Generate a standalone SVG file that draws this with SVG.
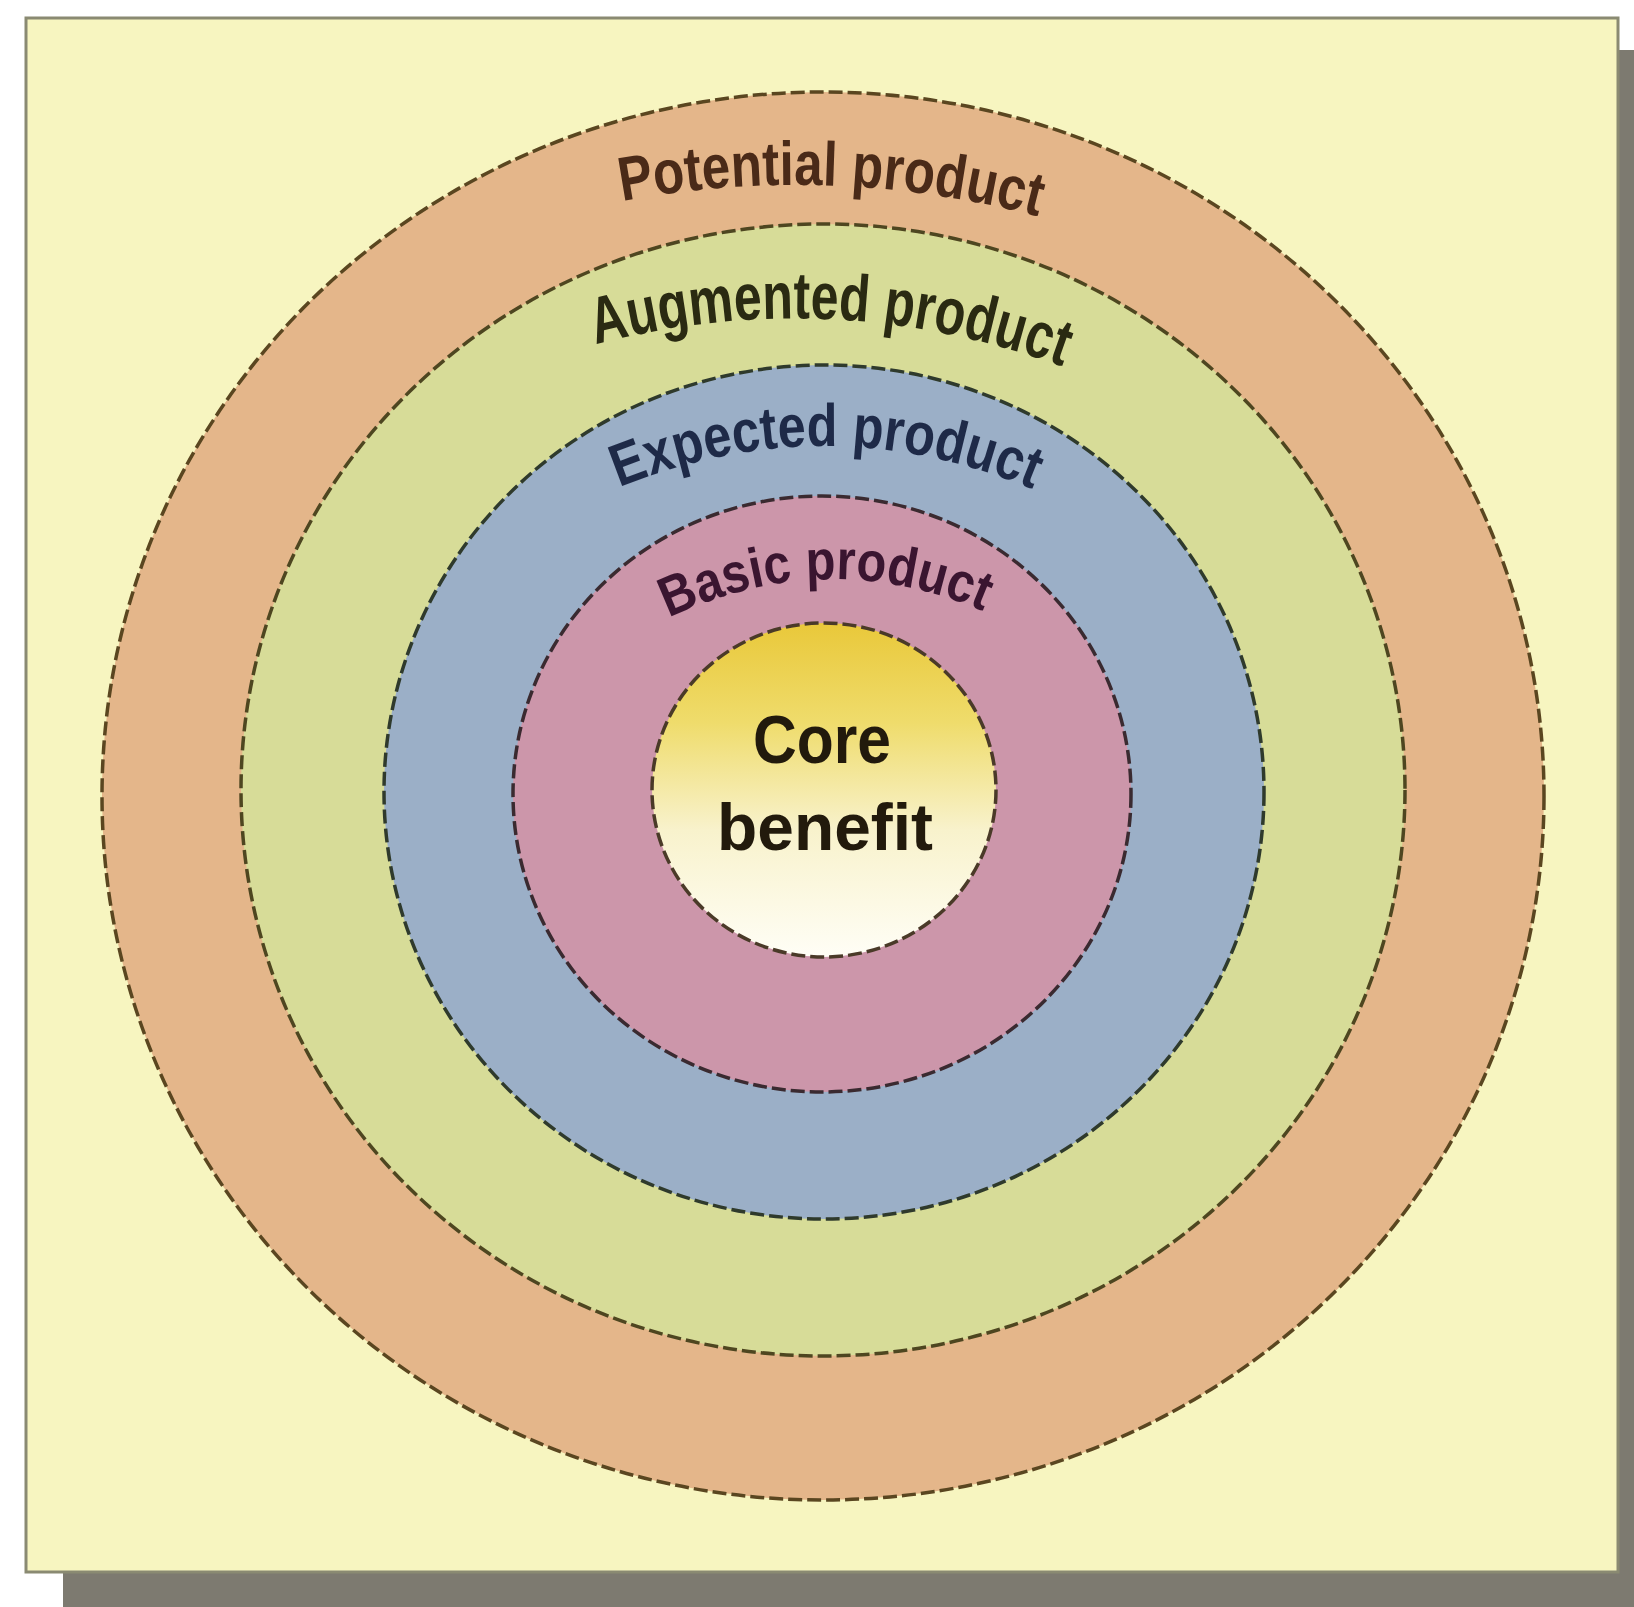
<svg xmlns="http://www.w3.org/2000/svg" width="1634" height="1607" viewBox="0 0 1634 1607">
  <style>
    .ring { stroke-width: 3.5; stroke-dasharray: 14 5; }
    .lbl { font-family: "Liberation Sans", "DejaVu Sans", sans-serif; font-weight: 700; }
    .core { font-family: "Liberation Sans", "DejaVu Sans", sans-serif; font-weight: 700; fill: #221a0c; text-anchor: middle; }
  </style>
  <defs>
    <linearGradient id="coreGrad" x1="0" y1="0" x2="0" y2="1">
      <stop offset="0" stop-color="#e9c83a"/>
      <stop offset="0.3" stop-color="#efdc6c"/>
      <stop offset="0.62" stop-color="#f8f2cc"/>
      <stop offset="1" stop-color="#fffef6"/>
    </linearGradient>
    <path id="pPotential" d="M 612 203 Q 830 160 1048 219"/>
    <path id="pAugmented" d="M 586 347 Q 831 280 1072 370"/>
    <path id="pExpected" d="M 608 492 Q 826 399 1044 494"/>
    <path id="pBasic" d="M 656 624 Q 826 538 996 617"/>
  </defs>

  <rect x="0" y="0" width="1634" height="1607" fill="#ffffff"/>
  <g id="frame">
    <rect x="1617" y="50" width="17" height="1557" fill="#7d7a70"/>
    <rect x="63" y="1572" width="1571" height="35" fill="#7d7a70"/>
    <rect x="26" y="18" width="1592" height="1554" fill="#f7f5c0" stroke="#8a8a72" stroke-width="3"/>
  </g>

  <g id="potential-product">
    <ellipse class="ring" cx="823" cy="796" rx="721" ry="704" fill="#e4b68a" stroke="#5a4620"/>
    <text class="lbl" font-size="62" fill="#4a2a18"><textPath href="#pPotential" startOffset="50%" text-anchor="middle" textLength="420" lengthAdjust="spacingAndGlyphs">Potential product</textPath></text>
  </g>

  <g id="augmented-product">
    <ellipse class="ring" cx="823" cy="790" rx="582" ry="566" fill="#d7dc98" stroke="#4e4620"/>
    <text class="lbl" font-size="66" fill="#2a2a12"><textPath href="#pAugmented" startOffset="50%" text-anchor="middle" textLength="475" lengthAdjust="spacingAndGlyphs">Augmented product</textPath></text>
  </g>

  <g id="expected-product">
    <ellipse class="ring" cx="824" cy="792" rx="440" ry="427" fill="#9bafc7" stroke="#2f3a2c"/>
    <text class="lbl" font-size="60" fill="#1e2a48"><textPath href="#pExpected" startOffset="50%" text-anchor="middle" textLength="425" lengthAdjust="spacingAndGlyphs">Expected product</textPath></text>
  </g>

  <g id="basic-product">
    <ellipse class="ring" cx="822" cy="794" rx="309" ry="298" fill="#cc96aa" stroke="#3a2a30"/>
    <text class="lbl" font-size="56" fill="#3a1530"><textPath href="#pBasic" startOffset="50%" text-anchor="middle" textLength="325" lengthAdjust="spacingAndGlyphs">Basic product</textPath></text>
  </g>

  <g id="core-benefit">
    <ellipse class="ring" cx="824" cy="790" rx="172" ry="167" fill="url(#coreGrad)" stroke="#4a3a28"/>
    <text class="core" x="822" y="763" font-size="68" textLength="138" lengthAdjust="spacingAndGlyphs">Core</text>
    <text class="core" x="825" y="850" font-size="66" textLength="216" lengthAdjust="spacingAndGlyphs">benefit</text>
  </g>

  <g id="connectors"/>
</svg>
